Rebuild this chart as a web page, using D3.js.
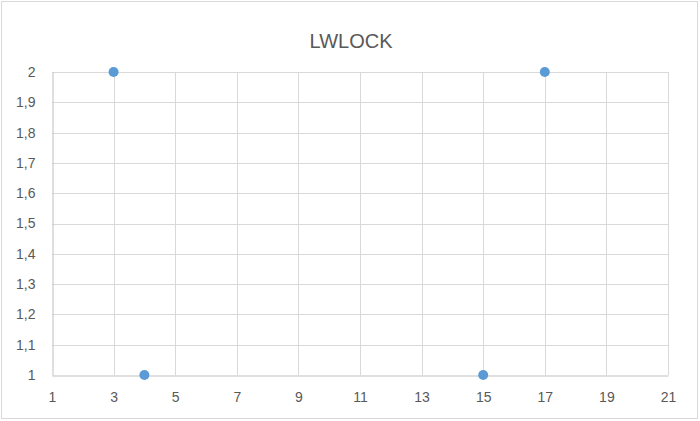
<!DOCTYPE html>
<html><head><meta charset="utf-8">
<script src="https://cdn.jsdelivr.net/npm/d3@7"></script>
<style>body{margin:0;background:#fff}svg{display:block}</style>
</head><body>
<script>
const title = "LWLOCK";
const xValues = [3, 4, 15, 17];
const yValues = [2, 1, 1, 2];
const xTicks = [1, 3, 5, 7, 9, 11, 13, 15, 17, 19, 21];
const yTicks = [1, 1.1, 1.2, 1.3, 1.4, 1.5, 1.6, 1.7, 1.8, 1.9, 2];

const W = 700, H = 421;
const m = {left: 52, right: 32, top: 72, bottom: 46};
const svg = d3.select("body").append("svg").attr("width", W).attr("height", H);
svg.append("rect").attr("x", 1.5).attr("y", 1.5).attr("width", W - 4).attr("height", H - 4)
  .attr("fill", "#fff").attr("stroke", "#d9d9d9").attr("stroke-width", 1);

const x = d3.scaleLinear().domain([1, 21]).range([m.left, W - m.right]);
const y = d3.scaleLinear().domain([1, 2]).range([H - m.bottom, m.top]);
const fmt = d => d3.format(".1~f")(d).replace(".", ",");
const font = "'Liberation Sans', Arial, sans-serif";

// gridlines
svg.append("g").selectAll("line").data(yTicks.slice(1)).join("line")
  .attr("x1", x(1)).attr("x2", x(21)).attr("y1", d => Math.round(y(d)) + 0.5).attr("y2", d => Math.round(y(d)) + 0.5)
  .attr("stroke", "#d9d9d9");
svg.append("g").selectAll("line").data(xTicks.slice(1)).join("line")
  .attr("y1", y(1)).attr("y2", y(2)).attr("x1", d => Math.round(x(d)) + 0.5).attr("x2", d => Math.round(x(d)) + 0.5)
  .attr("stroke", "#d9d9d9");

// axes
const xAxis = svg.append("g").attr("transform", `translate(0,${Math.round(y(1)) + 0.5})`)
  .call(d3.axisBottom(x).tickValues(xTicks).tickSize(0).tickPadding(17).tickFormat(d => d));
const yAxis = svg.append("g").attr("transform", `translate(${Math.round(x(1)) + 0.5},0)`)
  .call(d3.axisLeft(y).tickValues(yTicks).tickSize(0).tickPadding(17).tickFormat(fmt));
[xAxis, yAxis].forEach(a => {
  a.select(".domain").attr("stroke", "#bfbfbf");
  a.selectAll("text").attr("fill", "#595959").attr("font-size", 14).attr("font-family", font);
});

// points
svg.append("g").selectAll("circle").data(xValues.map((v, i) => [v, yValues[i]])).join("circle")
  .attr("cx", d => x(d[0])).attr("cy", d => y(d[1])).attr("r", 5)
  .attr("fill", "#5b9bd5");

svg.append("text").attr("x", W / 2 + 1).attr("y", 48).attr("text-anchor", "middle")
  .attr("fill", "#595959").attr("font-size", 20).attr("font-family", font).text(title);
</script>
</body></html>
